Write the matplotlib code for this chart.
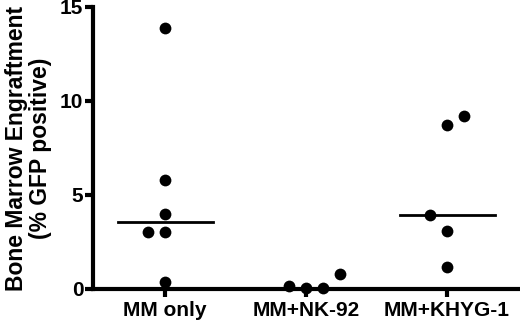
import matplotlib
matplotlib.use("Agg")
import matplotlib.pyplot as plt
import numpy as np

categories = ["MM only", "MM+NK-92", "MM+KHYG-1"]
mm_only = [13.9, 5.8, 4.0, 3.05, 3.05, 0.35]
mm_nk92 = [0.15, 0.05, 0.05, 0.8]
mm_khyg1 = [8.7, 9.2, 3.95, 3.1, 1.15]
medians = [3.55, 0.05, 3.95]

# horizontal jitter offsets (category units)
off_mm_only = [0.0, 0.0, 0.0, -0.12, 0.0, 0.0]
off_nk92 = [-0.12, 0.0, 0.12, 0.24]
off_khyg1 = [0.0, 0.12, -0.12, 0.0, 0.0]

plt.rcParams['font.family'] = ['Liberation Sans', 'DejaVu Sans']
plt.rcParams['font.weight'] = 'bold'

fig = plt.figure(figsize=(5.2, 3.24), dpi=100)
ax = fig.add_axes([93/520, 1-289/324, 1-93/520, (289-7)/324])

groups = [mm_only, mm_nk92, mm_khyg1]
offs = [off_mm_only, off_nk92, off_khyg1]
for i, (vals, of) in enumerate(zip(groups, offs)):
    xs = [i + o for o in of]
    ax.scatter(xs, vals, s=72, color='black', zorder=3, clip_on=False, linewidths=0)
    ax.plot([i - 0.33, i + 0.34], [medians[i], medians[i]], color='black', lw=2, zorder=2)

ax.set_xlim(-0.51, 2.52)
ax.set_ylim(0, 15)
ax.set_yticks([0, 5, 10, 15])
ax.set_xticks(range(3))
ax.set_xticklabels(categories, fontsize=15, fontweight='bold')
ax.tick_params(axis='y', labelsize=15, width=3, length=6, pad=1)
ax.tick_params(axis='x', width=3, length=6, pad=3)
for lab in ax.get_yticklabels():
    lab.set_fontweight('bold')
for s in ['top', 'right']:
    ax.spines[s].set_visible(False)
for s in ['left', 'bottom']:
    ax.spines[s].set_linewidth(3)
ax.set_ylabel("Bone Marrow Engraftment\n(% GFP positive)", fontsize=16.5,
              fontweight='bold', linespacing=1.05, labelpad=6)

fig.savefig("out.png", dpi=100)
